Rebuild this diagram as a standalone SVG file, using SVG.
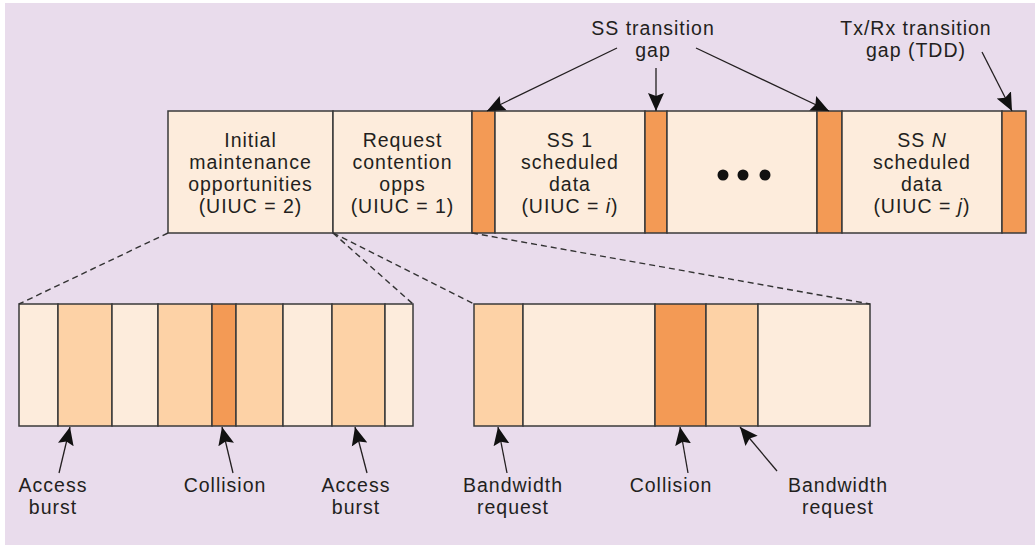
<svg xmlns="http://www.w3.org/2000/svg" width="1035" height="545" viewBox="0 0 1035 545">
  <style>
    .t { font-family: "Liberation Sans", Arial, sans-serif; font-size: 19.5px; letter-spacing: 1px; fill: #231f20; text-anchor: middle; }
    .cell { stroke: #3a3a3a; stroke-width: 1.5; }
    .light { fill: #fdecdc; }
    .mid { fill: #fdd2a6; }
    .dark { fill: #f39a55; }
    .arrow { fill: none; stroke: #231f20; stroke-width: 1.3; marker-end: url(#head); }
    .dash { fill: none; stroke: #333333; stroke-width: 1.4; stroke-dasharray: 6 4; }
  </style>
  <defs>
    <marker id="head" markerUnits="userSpaceOnUse" markerWidth="20" markerHeight="18" refX="18" refY="8" orient="auto" viewBox="0 0 20 16">
      <path d="M0,0 L18,8 L0,16 L3,8 z" fill="#111111"/>
    </marker>
  </defs>

  <!-- backdrop -->
  <rect x="5" y="3" width="1030" height="542" fill="#e9dcec"/>

  <!-- upper frame -->
  <g id="frame-top">
    <g id="initial-maintenance">
      <rect class="cell light" x="168" y="111" width="165" height="122"/>
      <text class="t" x="250.5" y="147">Initial</text>
      <text class="t" x="250.5" y="169">maintenance</text>
      <text class="t" x="250.5" y="191">opportunities</text>
      <text class="t" x="250.5" y="213">(UIUC = 2)</text>
    </g>
    <g id="request-contention">
      <rect class="cell light" x="333" y="111" width="139" height="122"/>
      <text class="t" x="402.5" y="147">Request</text>
      <text class="t" x="402.5" y="169">contention</text>
      <text class="t" x="402.5" y="191">opps</text>
      <text class="t" x="402.5" y="213">(UIUC = 1)</text>
    </g>
    <g id="gap-1"><rect class="cell dark" x="472" y="111" width="23" height="122"/></g>
    <g id="ss1-data">
      <rect class="cell light" x="495" y="111" width="150" height="122"/>
      <text class="t" x="570" y="147">SS 1</text>
      <text class="t" x="570" y="169">scheduled</text>
      <text class="t" x="570" y="191">data</text>
      <text class="t" x="570" y="213">(UIUC = <tspan font-style="italic">i</tspan>)</text>
    </g>
    <g id="gap-2"><rect class="cell dark" x="645" y="111" width="22" height="122"/></g>
    <g id="ellipsis">
      <rect class="cell light" x="667" y="111" width="150" height="122"/>
      <circle cx="723" cy="175" r="5.5" fill="#111111"/>
      <circle cx="743" cy="175" r="5.5" fill="#111111"/>
      <circle cx="765" cy="175" r="5.5" fill="#111111"/>
    </g>
    <g id="gap-3"><rect class="cell dark" x="817" y="111" width="25" height="122"/></g>
    <g id="ssN-data">
      <rect class="cell light" x="842" y="111" width="160" height="122"/>
      <text class="t" x="922" y="147">SS <tspan font-style="italic">N</tspan></text>
      <text class="t" x="922" y="169">scheduled</text>
      <text class="t" x="922" y="191">data</text>
      <text class="t" x="922" y="213">(UIUC = <tspan font-style="italic">j</tspan>)</text>
    </g>
    <g id="gap-txrx"><rect class="cell dark" x="1002" y="111" width="24" height="122"/></g>
  </g>

  <!-- callout labels above the frame -->
  <g id="label-ss-gap">
    <text class="t" x="653" y="35">SS transition</text>
    <text class="t" x="653" y="57">gap</text>
  </g>
  <g id="label-txrx-gap">
    <text class="t" x="916" y="35">Tx/Rx transition</text>
    <text class="t" x="916" y="57">gap (TDD)</text>
  </g>

  <!-- contention slot detail -->
  <g id="maintenance-slots">
    <rect class="cell light" x="19" y="304" width="39" height="122"/>
    <rect class="cell mid" x="58" y="304" width="54" height="122"/>
    <rect class="cell light" x="112" y="304" width="46" height="122"/>
    <rect class="cell mid" x="158" y="304" width="54" height="122"/>
    <rect class="cell dark" x="212" y="304" width="24" height="122"/>
    <rect class="cell mid" x="236" y="304" width="47" height="122"/>
    <rect class="cell light" x="283" y="304" width="49" height="122"/>
    <rect class="cell mid" x="332" y="304" width="53" height="122"/>
    <rect class="cell light" x="385" y="304" width="28" height="122"/>
  </g>
  <g id="request-slots">
    <rect class="cell mid" x="474" y="304" width="49" height="122"/>
    <rect class="cell light" x="523" y="304" width="132" height="122"/>
    <rect class="cell dark" x="655" y="304" width="51" height="122"/>
    <rect class="cell mid" x="706" y="304" width="52" height="122"/>
    <rect class="cell light" x="758" y="304" width="112" height="122"/>
  </g>

  <!-- slot labels -->
  <g id="label-access-1">
    <text class="t" x="53" y="492">Access</text>
    <text class="t" x="53" y="514">burst</text>
  </g>
  <g id="label-collision-1">
    <text class="t" x="225" y="492">Collision</text>
  </g>
  <g id="label-access-2">
    <text class="t" x="356" y="492">Access</text>
    <text class="t" x="356" y="514">burst</text>
  </g>
  <g id="label-bw-1">
    <text class="t" x="513" y="492">Bandwidth</text>
    <text class="t" x="513" y="514">request</text>
  </g>
  <g id="label-collision-2">
    <text class="t" x="671" y="492">Collision</text>
  </g>
  <g id="label-bw-2">
    <text class="t" x="838" y="492">Bandwidth</text>
    <text class="t" x="838" y="514">request</text>
  </g>

  <g id="connectors">
    <!-- zoom-out guides -->
    <line class="dash" x1="168" y1="233" x2="19" y2="304"/>
    <line class="dash" x1="333" y1="233" x2="413" y2="304"/>
    <line class="dash" x1="333" y1="233" x2="474" y2="304"/>
    <line class="dash" x1="472" y1="233" x2="870" y2="304"/>
    <!-- gap callouts -->
    <line class="arrow" x1="617" y1="48" x2="487" y2="111"/>
    <line class="arrow" x1="656" y1="68" x2="656" y2="111"/>
    <line class="arrow" x1="696" y1="48" x2="829" y2="111"/>
    <line class="arrow" x1="982" y1="52" x2="1012" y2="111"/>
    <!-- slot callouts -->
    <line class="arrow" x1="59" y1="473" x2="70" y2="427"/>
    <line class="arrow" x1="233" y1="473" x2="222" y2="427"/>
    <line class="arrow" x1="367" y1="473" x2="355" y2="427"/>
    <line class="arrow" x1="507" y1="473" x2="498" y2="427"/>
    <line class="arrow" x1="688" y1="473" x2="680" y2="427"/>
    <line class="arrow" x1="777" y1="471" x2="740" y2="427"/>
  </g>
</svg>
